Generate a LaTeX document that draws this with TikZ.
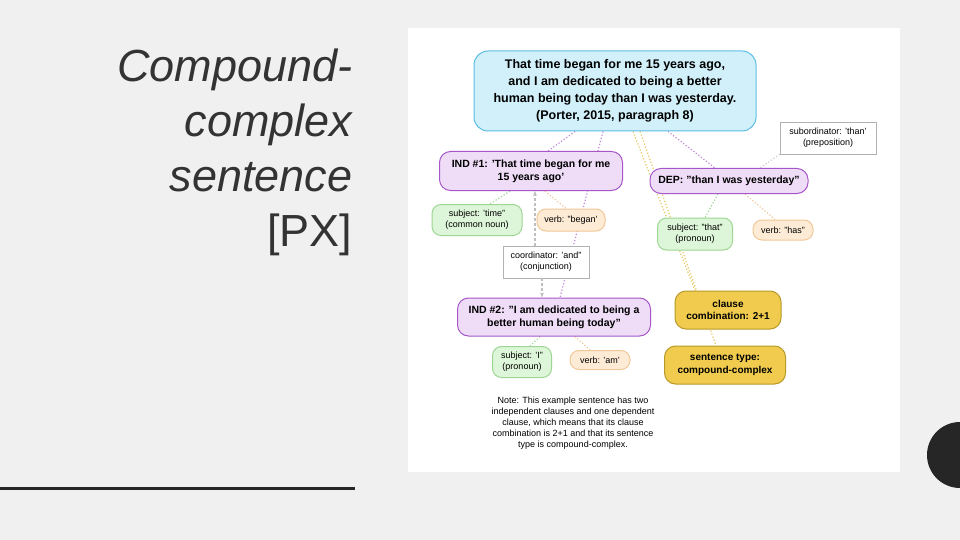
\documentclass[tikz,border=0pt]{standalone}
\usepackage{fontspec}
\setmainfont{Liberation Sans}
\usetikzlibrary{arrows.meta}
\definecolor{bg}{HTML}{F0F0F0}
\definecolor{cyf}{HTML}{D2F0FA}\definecolor{cyd}{HTML}{5BBDE6}
\definecolor{puf}{HTML}{EFDDF8}\definecolor{pud}{HTML}{A656C8}
\definecolor{grf}{HTML}{DDF5D8}\definecolor{grd}{HTML}{9ED694}
\definecolor{orf}{HTML}{FDEBD5}\definecolor{ord}{HTML}{F0C898}
\definecolor{gof}{HTML}{F0CB4E}\definecolor{god}{HTML}{B79A2A}
\definecolor{yel}{HTML}{E8C860}
\pgfdeclarelayer{bgl}\pgfdeclarelayer{back}\pgfsetlayers{back,bgl,main}
\tikzset{
 box/.style={draw,rounded corners=#1,align=center,inner sep=0pt,line width=1pt},
 mainbox/.style={box=14pt,fill=cyf,draw=cyd,font=\fontsize{12.5}{17}\selectfont\bfseries},
 indbox/.style={box=11pt,fill=puf,draw=pud,font=\fontsize{10.5}{13}\selectfont\bfseries},
 subbox/.style={box=9pt,fill=grf,draw=grd,font=\fontsize{9}{11}\selectfont},
 verbbox/.style={box=9pt,fill=orf,draw=ord,font=\fontsize{9}{11}\selectfont},
 goldbox/.style={box=11pt,fill=gof,draw=god,font=\fontsize{10}{12.5}\selectfont\bfseries},
 plainbox/.style={draw=gray!60,fill=white,align=center,inner sep=0pt,line width=0.6pt,font=\fontsize{9}{11}\selectfont},
 pl/.style={dotted,line width=1.2pt,draw=pud!70},
 gl/.style={dotted,line width=1.2pt,draw=grd},
 ol/.style={dotted,line width=1.2pt,draw=ord},
 yl/.style={dotted,line width=1.2pt,draw=yel},
 grl/.style={dotted,line width=1.2pt,draw=gray!40},
 al/.style={densely dashed,line width=1.2pt,draw=gray!50,-{Stealth[length=5pt]}},
}
\begin{document}
\begin{tikzpicture}[x=1pt,y=-1pt]
\begin{pgfonlayer}{back}
\fill[bg] (0,0) rectangle (960,540);
\fill[white] (408,28) rectangle (900,472);
\end{pgfonlayer}
\useasboundingbox (0,0) rectangle (960,540);
\node[anchor=north east,align=right,font=\fontsize{45}{55}\selectfont,text=black!80] (title) at (356,45) {\itshape Compound-\\\itshape complex\\\itshape sentence\\{[PX]}};
\draw[line width=3pt,black!85] (0,488) -- (355,488);
\fill[black!85] (960,455) circle (33);
\node[mainbox,minimum width=282,minimum height=80] (main) at (615,91) {That time began for me 15 years ago,\\and I am dedicated to being a better\\human being today than I was yesterday.\\(Porter, 2015, paragraph 8)};
\node[plainbox,minimum width=96,minimum height=32] (sub) at (828,138) {subordinator: 'than'\\(preposition)};
\node[indbox,minimum width=183,minimum height=39] (ind1) at (531,171) {IND \#1: 'That time began for me\\15 years ago'};
\node[indbox,minimum width=158,minimum height=25] (dep) at (729,181) {DEP: "than I was yesterday"};
\node[subbox,minimum width=90,minimum height=31] (st) at (477,220) {subject: 'time"\\(common noun)};
\node[verbbox,minimum width=68,minimum height=22] (vb) at (571,220) {verb: "began'};
\node[subbox,minimum width=75,minimum height=32] (sth) at (695,234) {subject: "that"\\(pronoun)};
\node[verbbox,minimum width=60,minimum height=20] (vh) at (783,230) {verb: "has"};
\node[plainbox,minimum width=86,minimum height=32] (co) at (546,262) {coordinator: 'and"\\(conjunction)};
\node[indbox,minimum width=193,minimum height=38] (ind2) at (554,317) {IND \#2: "I am dedicated to being a\\better human being today"};
\node[goldbox,minimum width=106,minimum height=38] (cc) at (728,310) {clause\\combination: 2+1};
\node[goldbox,minimum width=121,minimum height=38] (stype) at (725,365) {sentence type:\\compound-complex};
\node[subbox,minimum width=59,minimum height=31] (si) at (522,362) {subject: 'I"\\(pronoun)};
\node[verbbox,minimum width=60,minimum height=19] (va) at (600,360) {verb: 'am'};
\node[align=center,font=\fontsize{9}{11}\selectfont] (note) at (573,423) {Note: This example sentence has two\\independent clauses and one dependent\\clause, which means that its clause\\combination is 2+1 and that its sentence\\type is compound-complex.};
\begin{pgfonlayer}{bgl}
\draw[pl] ([xshift=-40]main.south) -- ([xshift=17]ind1.north);
\draw[pl] ([xshift=-12]main.south) -- ([xshift=6]ind2.north);
\draw[pl] ([xshift=53]main.south) -- ([xshift=-14]dep.north);
\draw[yl] ([xshift=18]main.south) -- ([xshift=-33]cc.north);
\draw[yl] ([xshift=25]main.south) -- ([xshift=-9]stype.north);
\draw[grl] (sub.south west) -- ([xshift=31]dep.north);
\draw[gl] ([xshift=-21]ind1.south) -- ([xshift=13]st.north);
\draw[ol] ([xshift=14]ind1.south) -- ([xshift=-5]vb.north);
\draw[gl] ([xshift=-11]dep.south) -- ([xshift=10]sth.north);
\draw[ol] ([xshift=16]dep.south) -- ([xshift=-8]vh.north);
\draw[gl] ([xshift=-14]ind2.south) -- ([xshift=8]si.north);
\draw[ol] ([xshift=21]ind2.south) -- ([xshift=-10]va.north);
\end{pgfonlayer}
\draw[al] ([xshift=-11]co.north) -- ([xshift=-11]co.north |- ind1.south);
\draw[al] ([xshift=-4]co.south) -- ([xshift=-4]co.south |- ind2.north);
\end{tikzpicture}
\end{document}
